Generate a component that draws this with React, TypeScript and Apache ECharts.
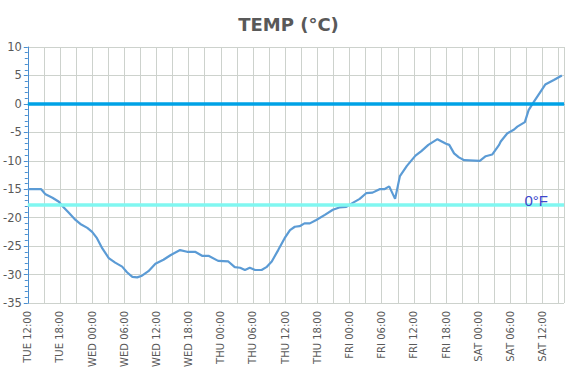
import React, { useEffect, useRef } from "react";
import * as echarts from "echarts";

// hours since TUE 12:00
const hours = [0, 2.5, 3.3, 4.6, 5.8, 6.4, 7.7, 8.9, 9.8, 11.1, 12.0, 12.9, 13.9, 15.1, 16.3, 17.6, 18.5, 19.5, 20.4, 21.3, 22.5, 23.8, 25.3, 26.6, 28.4, 29.7, 31.2, 32.5, 33.7, 35.5, 37.4, 38.6, 39.6, 40.5, 41.4, 42.4, 43.6, 44.5, 45.5, 46.7, 47.9, 48.9, 49.8, 50.7, 51.6, 52.6, 53.8, 55.4, 56.9, 58.1, 59.4, 60.6, 61.9, 63.1, 64.3, 65.6, 66.5, 67.4, 68.5, 69.4, 70.7, 72.3, 73.4, 74.7, 76.4, 78.0, 78.6, 79.5, 80.4, 81.4, 84.3, 85.4, 86.6, 87.9, 88.2, 89.4, 90.7, 91.3, 92.7, 93.4, 94.4, 96.5, 98.1, 99.6];
const temps = [-15, -15, -15.9, -16.5, -17.2, -17.9, -19.2, -20.4, -21.1, -21.8, -22.5, -23.6, -25.4, -27.1, -27.9, -28.6, -29.6, -30.4, -30.5, -30.2, -29.4, -28.1, -27.4, -26.6, -25.7, -26.0, -26.0, -26.7, -26.7, -27.6, -27.7, -28.7, -28.8, -29.2, -28.8, -29.2, -29.2, -28.7, -27.7, -25.7, -23.6, -22.2, -21.6, -21.5, -21.0, -21.0, -20.4, -19.5, -18.6, -18.2, -18.1, -17.4, -16.7, -15.7, -15.6, -15.0, -15.0, -14.5, -16.7, -12.7, -10.9, -9.1, -8.3, -7.2, -6.2, -7.0, -7.2, -8.7, -9.4, -9.9, -10.0, -9.2, -8.9, -7.2, -6.6, -5.2, -4.5, -4.0, -3.2, -1.1, 0.4, 3.4, 4.2, 5.0];

const dayNames = ["TUE", "WED", "THU", "FRI", "SAT"];
const startHour = 12;
const yMin = -35;
const yMax = 10;
const zeroC = 0;
const zeroF = -17.78;
const zeroFLabel = "0°F";
const titleText = "TEMP (°C)";

function fmtX(v: number): string {
  if (v % 6 !== 0) return "";
  const h = startHour + v;
  const d = Math.floor(h / 24);
  const hh = h % 24;
  return dayNames[d] + " " + String(hh).padStart(2, "0") + ":00";
}

export default function App() {
  const ref = useRef<HTMLDivElement>(null);
  useEffect(() => {
    if (!ref.current) return;
    const chart = echarts.init(ref.current, undefined, { renderer: "svg" });
    const axisBlue = "#4a8fd0";
    const gridGray = "#cdd2cd";
    chart.setOption({
      animation: false,
      backgroundColor: "#ffffff",
      title: {
        text: titleText,
        left: "center",
        top: 10,
        textStyle: { fontFamily: "DejaVu Sans", fontWeight: "bold", fontSize: 18, color: "#595959" },
      },
      grid: { left: 27, right: 13, top: 47, bottom: 76 },
      xAxis: [
        {
          type: "value",
          min: 0,
          max: 100,
          interval: 3,
          axisLine: { show: false },
          axisTick: { show: false },
          splitLine: { show: true, lineStyle: { color: gridGray, width: 1 } },
          axisLabel: {
            rotate: 90,
            margin: 8,
            fontFamily: "DejaVu Sans",
            fontSize: 10,
            color: "#595959",
            padding: [9, 0, 0, 0],
            showMaxLabel: false,
            formatter: (v: number) => fmtX(v),
          },
        },
        {
          type: "value",
          position: "top",
          min: 0,
          max: 100,
          axisLine: { show: true, lineStyle: { color: axisBlue, type: "dotted", width: 1 } },
          axisTick: { show: false },
          axisLabel: { show: false },
          splitLine: { show: false },
        },
      ],
      yAxis: [
        {
          type: "value",
          min: yMin,
          max: yMax,
          interval: 5,
          axisLine: { show: true, onZero: false, lineStyle: { color: axisBlue, width: 1 } },
          axisTick: { show: true, length: 4, lineStyle: { color: axisBlue } },
          minorTick: { show: true, splitNumber: 5, length: 3, lineStyle: { color: axisBlue } },
          splitLine: { show: true, lineStyle: { color: gridGray, width: 1 } },
          axisLabel: { fontFamily: "DejaVu Sans", fontSize: 11.5, color: "#595959", margin: 6 },
        },
        {
          type: "value",
          position: "right",
          min: yMin,
          max: yMax,
          axisLine: { show: true, lineStyle: { color: axisBlue, type: "dotted", width: 1 } },
          axisTick: { show: false },
          axisLabel: { show: false },
          splitLine: { show: false },
        },
      ],
      series: [
        {
          type: "line",
          data: [],
          z: 1,
          markLine: {
            silent: true,
            symbol: ["none", "none"],
            data: [
              {
                yAxis: zeroC,
                lineStyle: { color: "#00a2e6", width: 3.5, type: "solid" },
                label: { show: false },
              },
              {
                yAxis: zeroF,
                lineStyle: { color: "#80f7f1", width: 3.5, type: "solid" },
                label: {
                  show: true,
                  position: "insideEndTop",
                  formatter: zeroFLabel,
                  fontFamily: "Liberation Sans",
                  fontSize: 15,
                  color: "#3c46cc",
                  distance: [16, -3],
                },
              },
            ],
          },
        },
        {
          type: "line",
          z: 3,
          data: hours.map((h, i) => [h, temps[i]]),
          showSymbol: false,
          symbol: "none",
          lineStyle: { color: "#5b9bd5", width: 2.2 },
        },
      ],
    });
    return () => chart.dispose();
  }, []);
  return (
    <div
      ref={ref}
      style={{ position: "fixed", left: 0, top: 0, width: 577, height: 379, background: "#fff" }}
    />
  );
}
